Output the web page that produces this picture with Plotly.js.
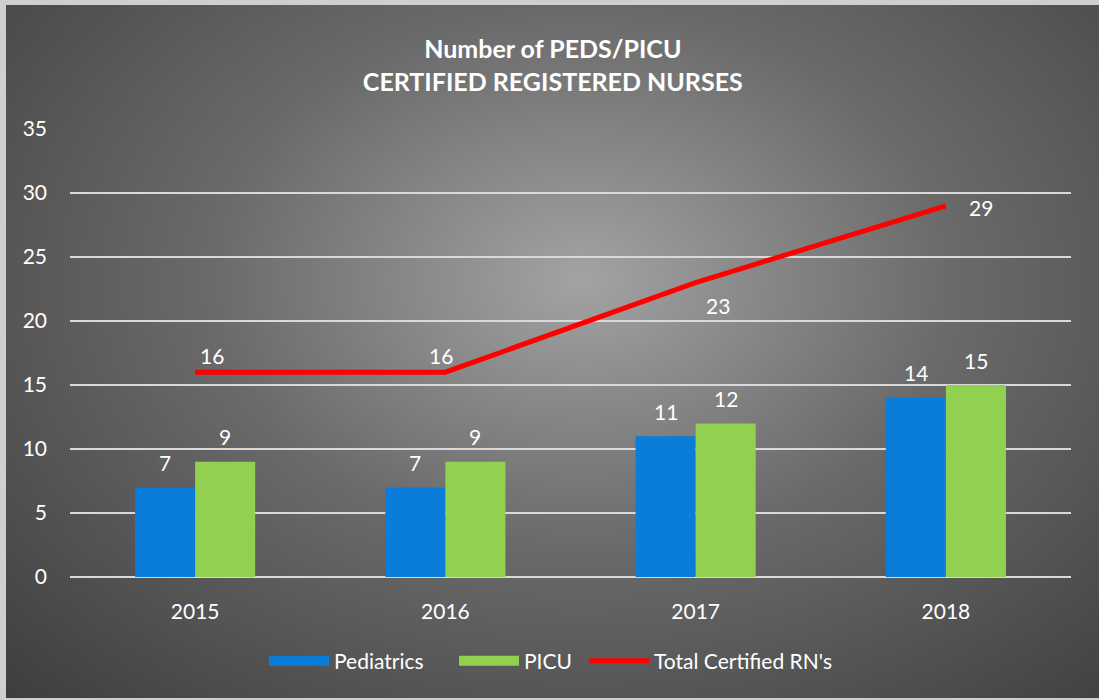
<!DOCTYPE html>
<html>
<head>
<meta charset="utf-8">
<script src="https://cdn.plot.ly/plotly-3.0.1.min.js"></script>
<style>
  html, body { margin: 0; padding: 0; }
  #bg {
    position: absolute; left: 0; top: 0; width: 1099px; height: 700px;
    background: radial-gradient(ellipse farthest-corner at 53% 40%, #a3a3a3 0%, #6a6a6a 45%, #3d3d3d 100%);
    box-shadow: inset 6px 5px 0 #cfcfcf, inset 0 -2px 0 #cfcfcf;
  }
  #chart { position: absolute; left: 0; top: 0; width: 1099px; height: 700px; }
</style>
</head>
<body>
<div id="bg"></div>
<div id="chart"></div>
<script>
const years = ['2015', '2016', '2017', '2018'];
const pediatrics = [7, 7, 11, 14];
const picu = [9, 9, 12, 15];
const totalRN = [16, 16, 23, 29];
const yTicks = [0, 5, 10, 15, 20, 25, 30, 35];

const FONT = 'Lato, "Open Sans", sans-serif';
const BLUE = '#0a7cd9';
const GREEN = '#92d050';
const RED = '#ff0000';
const LABEL_FONT = {color: '#ffffff', size: 21, family: FONT};

// label offsets (pixels) for the total line labels, as in the source chart
const totalLabelShift = [[17, 17], [-4, 17], [22, -23], [35, -2]];

const traces = [
  {
    type: 'bar', name: 'Pediatrics', x: years, y: pediatrics,
    marker: {color: BLUE}, showlegend: false, hoverinfo: 'x+y'
  },
  {
    type: 'bar', name: 'PICU', x: years, y: picu,
    marker: {color: GREEN}, showlegend: false, hoverinfo: 'x+y'
  },
  {
    type: 'scatter', mode: 'lines', name: "Total Certified RN's", x: years, y: totalRN,
    line: {color: RED, width: 5}, showlegend: false
  },
  // legend entries
  {type: 'scatter', mode: 'lines', name: 'Pediatrics', x: [null], y: [null], line: {color: BLUE, width: 14}, hoverinfo: 'skip', legend: 'legend'},
  {type: 'scatter', mode: 'lines', name: 'PICU', x: [null], y: [null], line: {color: GREEN, width: 14}, hoverinfo: 'skip', legend: 'legend2'},
  {type: 'scatter', mode: 'lines', name: "Total Certified RN's", x: [null], y: [null], line: {color: RED, width: 5}, hoverinfo: 'skip', legend: 'legend3'}
];

const annotations = [];
years.forEach((yr, i) => {
  annotations.push({x: i, y: pediatrics[i], xref: 'x', yref: 'y', text: String(pediatrics[i]),
    showarrow: false, xshift: -30, yshift: 25, yanchor: 'middle', font: LABEL_FONT});
  annotations.push({x: i, y: picu[i], xref: 'x', yref: 'y', text: String(picu[i]),
    showarrow: false, xshift: 30, yshift: 25, yanchor: 'middle', font: LABEL_FONT});
  annotations.push({x: i, y: totalRN[i], xref: 'x', yref: 'y', text: String(totalRN[i]),
    showarrow: false, xshift: totalLabelShift[i][0], yshift: totalLabelShift[i][1],
    yanchor: 'middle', font: LABEL_FONT});
});

function legendAt(xLeft) {
  return {
    orientation: 'h', xref: 'container', yref: 'container',
    x: xLeft / 1099, xanchor: 'left', y: 1 - 661 / 700, yanchor: 'middle',
    font: {size: 21, color: '#ffffff', family: FONT},
    itemwidth: 60, bgcolor: 'rgba(0,0,0,0)', borderwidth: 0
  };
}

const layout = {
  width: 1099, height: 700,
  paper_bgcolor: 'rgba(0,0,0,0)', plot_bgcolor: 'rgba(0,0,0,0)',
  font: {family: FONT, color: '#ffffff', size: 21},
  margin: {l: 70, r: 28, t: 129, b: 123},
  title: {
    text: 'Number of PEDS/PICU<br>CERTIFIED REGISTERED NURSES',
    font: {family: FONT, size: 25, color: '#ffffff', weight: 'bold'},
    x: 0.503, xanchor: 'center', xref: 'container',
    y: 1 - 58 / 700, yanchor: 'middle', yref: 'container'
  },
  barmode: 'group', bargap: 0.52, bargroupgap: 0,
  xaxis: {
    type: 'category', showgrid: false, zeroline: false, showline: false,
    ticks: '', ticklabelstandoff: 20, tickfont: {size: 21, color: '#ffffff', family: FONT}
  },
  yaxis: {
    range: [0, 35], tickvals: yTicks, ticktext: yTicks.map(String),
    showgrid: true, gridcolor: '#d9d9d9', gridwidth: 1.5,
    zeroline: true, zerolinecolor: '#d9d9d9', zerolinewidth: 2,
    showline: false, ticks: '', ticklabelstandoff: 22,
    tickfont: {size: 21, color: '#ffffff', family: FONT}
  },
  legend: legendAt(264),
  legend2: legendAt(454),
  legend3: legendAt(584),
  annotations: annotations,
  showlegend: true
};

Plotly.newPlot('chart', traces, layout, {displayModeBar: false, staticPlot: true});
</script>
</body>
</html>
